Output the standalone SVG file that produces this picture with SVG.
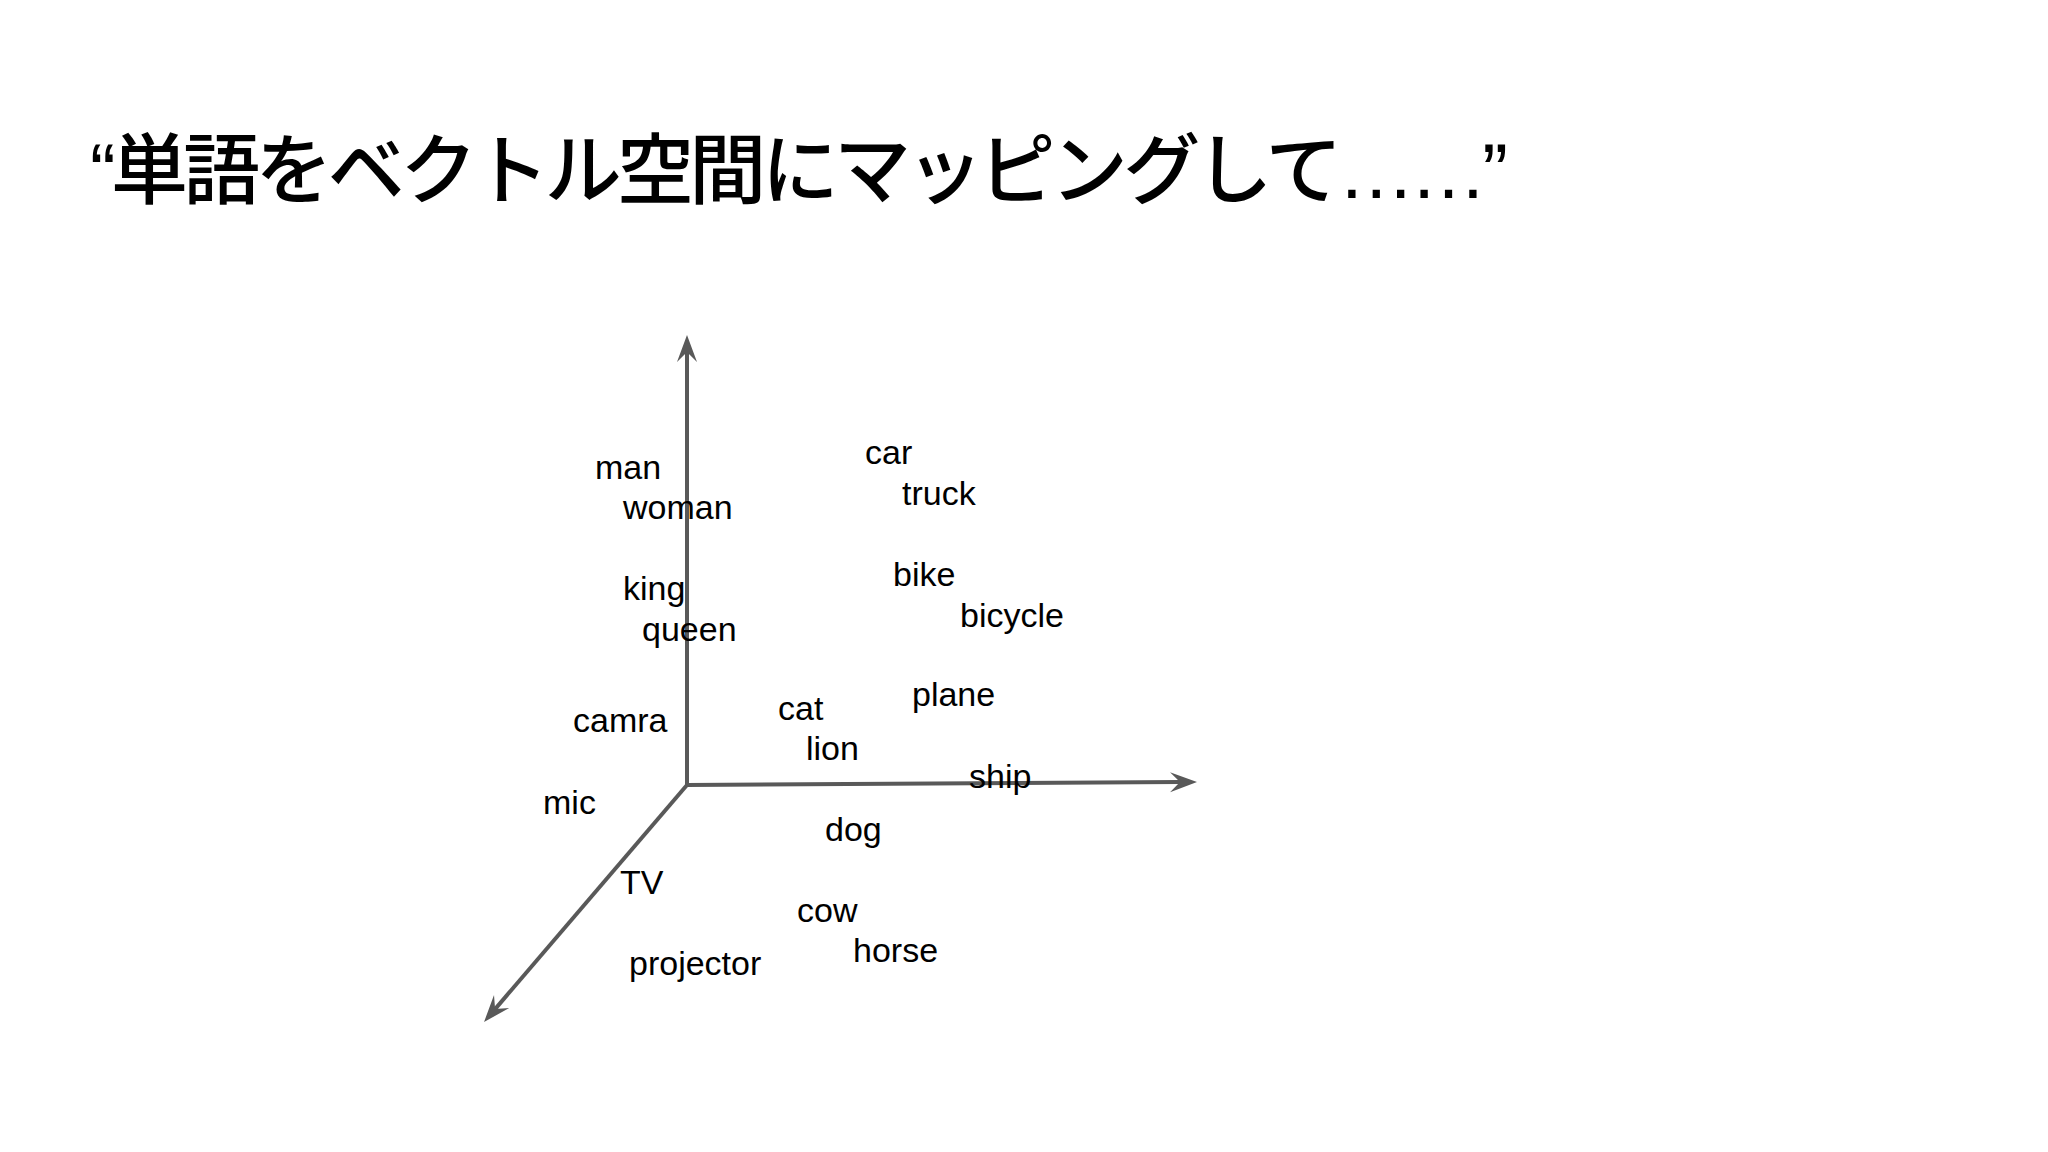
<svg xmlns="http://www.w3.org/2000/svg" width="2048" height="1152" viewBox="0 0 2048 1152">
  <defs>
    <style>
      .title { font-family: "Liberation Sans", "Noto Sans CJK JP", sans-serif; font-size: 77px; font-weight: 500; fill: #000; }
      .word { font-family: "Liberation Sans", Arial, sans-serif; font-size: 34px; fill: #000; }
      .axis { stroke: #595959; stroke-width: 4; fill: none; }
    </style>
    <marker id="stealth" markerUnits="userSpaceOnUse" markerWidth="28" markerHeight="22" refX="10" refY="10" orient="auto" viewBox="0 0 28 20">
      <path d="M0,0 L27,10 L0,20 L10,10 Z" fill="#595959"/>
    </marker>
  </defs>
  <rect width="2048" height="1152" fill="#ffffff"/>

  <g id="title">
    <text class="title" x="90" y="198" textLength="1418" lengthAdjust="spacing">“単語をベクトル空間にマッピングして……”</text>
  </g>

  <g id="connectors">
    <line id="axis-y" class="axis" x1="687" y1="785" x2="687" y2="352" marker-end="url(#stealth)"/>
    <line id="axis-x" class="axis" x1="687" y1="785" x2="1180" y2="782.1" marker-end="url(#stealth)"/>
    <line id="axis-z" class="axis" x1="687" y1="785" x2="495.1" y2="1009.1" marker-end="url(#stealth)"/>
  </g>

  <g id="node-man"><text class="word" x="595" y="479">man</text></g>
  <g id="node-woman"><text class="word" x="623" y="519">woman</text></g>
  <g id="node-king"><text class="word" x="623" y="600">king</text></g>
  <g id="node-queen"><text class="word" x="642" y="641">queen</text></g>
  <g id="node-camra"><text class="word" x="573" y="732">camra</text></g>
  <g id="node-mic"><text class="word" x="543" y="814">mic</text></g>
  <g id="node-tv"><text class="word" x="620" y="894">TV</text></g>
  <g id="node-projector"><text class="word" x="629" y="975">projector</text></g>
  <g id="node-car"><text class="word" x="865" y="464">car</text></g>
  <g id="node-truck"><text class="word" x="902" y="505">truck</text></g>
  <g id="node-bike"><text class="word" x="893" y="586">bike</text></g>
  <g id="node-bicycle"><text class="word" x="960" y="627">bicycle</text></g>
  <g id="node-plane"><text class="word" x="912" y="706">plane</text></g>
  <g id="node-cat"><text class="word" x="778" y="720">cat</text></g>
  <g id="node-lion"><text class="word" x="806" y="760">lion</text></g>
  <g id="node-ship"><text class="word" x="969" y="788">ship</text></g>
  <g id="node-dog"><text class="word" x="825" y="841">dog</text></g>
  <g id="node-cow"><text class="word" x="797" y="922">cow</text></g>
  <g id="node-horse"><text class="word" x="853" y="962">horse</text></g>
</svg>
